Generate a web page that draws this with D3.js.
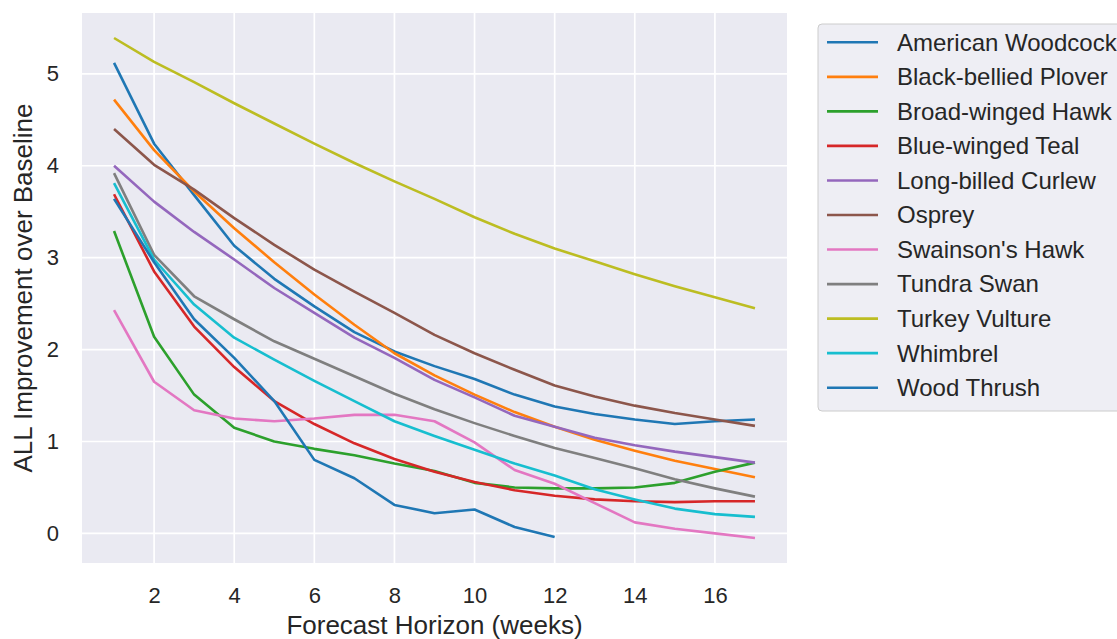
<!DOCTYPE html>
<html>
<head>
<meta charset="utf-8">
<script src="https://cdn.jsdelivr.net/npm/d3@7"></script>
<style>
  body { margin: 0; background: #fff; }
  text { font-family: "Liberation Sans", Arial, sans-serif; fill: #262626; }
</style>
</head>
<body>
<div id="chart"></div>
<script>
// forecast horizon, weeks 1..17
const weeks = d3.range(1, 18);
const xTicks = [2, 4, 6, 8, 10, 12, 14, 16];
const yTicks = [0, 1, 2, 3, 4, 5];

const speciesNames = [
  "American Woodcock", "Black-bellied Plover", "Broad-winged Hawk",
  "Blue-winged Teal", "Long-billed Curlew", "Osprey", "Swainson's Hawk",
  "Tundra Swan", "Turkey Vulture", "Whimbrel", "Wood Thrush"
];

const americanWoodcock = [5.12, 4.24, 3.68, 3.13, 2.77, 2.47, 2.19, 1.98, 1.82, 1.68, 1.51, 1.38, 1.30, 1.24, 1.19, 1.22, 1.24];
const blackBelliedPlover = [4.72, 4.17, 3.72, 3.32, 2.95, 2.60, 2.27, 1.96, 1.72, 1.51, 1.32, 1.16, 1.02, 0.90, 0.79, 0.70, 0.61];
const broadWingedHawk = [3.29, 2.14, 1.51, 1.15, 1.00, 0.92, 0.85, 0.76, 0.68, 0.55, 0.50, 0.49, 0.49, 0.50, 0.55, 0.67, 0.77];
const blueWingedTeal = [3.69, 2.85, 2.25, 1.81, 1.44, 1.19, 0.98, 0.81, 0.67, 0.56, 0.47, 0.41, 0.37, 0.35, 0.34, 0.35, 0.35];
const longBilledCurlew = [4.00, 3.61, 3.28, 2.98, 2.67, 2.40, 2.13, 1.91, 1.67, 1.48, 1.28, 1.16, 1.04, 0.96, 0.89, 0.83, 0.77];
const osprey = [4.40, 4.01, 3.74, 3.43, 3.14, 2.87, 2.63, 2.40, 2.16, 1.96, 1.78, 1.61, 1.49, 1.39, 1.31, 1.24, 1.17];
const swainsonsHawk = [2.43, 1.65, 1.34, 1.25, 1.22, 1.25, 1.29, 1.29, 1.22, 0.99, 0.69, 0.54, 0.33, 0.12, 0.05, 0.00, -0.05];
const tundraSwan = [3.92, 3.03, 2.58, 2.33, 2.09, 1.90, 1.71, 1.52, 1.35, 1.20, 1.06, 0.93, 0.82, 0.71, 0.59, 0.49, 0.40];
const turkeyVulture = [5.39, 5.13, 4.91, 4.68, 4.46, 4.24, 4.03, 3.83, 3.64, 3.44, 3.26, 3.10, 2.96, 2.82, 2.69, 2.57, 2.45];
const whimbrel = [3.81, 2.98, 2.49, 2.13, 1.89, 1.66, 1.44, 1.22, 1.06, 0.91, 0.76, 0.63, 0.48, 0.37, 0.27, 0.21, 0.18];
const woodThrush = [3.64, 2.95, 2.33, 1.91, 1.44, 0.80, 0.60, 0.31, 0.22, 0.26, 0.07, -0.04];

const allSeries = [
  americanWoodcock, blackBelliedPlover, broadWingedHawk, blueWingedTeal,
  longBilledCurlew, osprey, swainsonsHawk, tundraSwan, turkeyVulture,
  whimbrel, woodThrush
];

const colors = d3.scaleOrdinal(
  ["#1f77b4", "#ff7f0e", "#2ca02c", "#d62728", "#9467bd", "#8c564b",
   "#e377c2", "#7f7f7f", "#bcbd22", "#17becf"]
);

const width = 1117, height = 639;
const margin = { top: 13, right: 330, bottom: 76, left: 82 };
const plotW = width - margin.left - margin.right;
const plotH = height - margin.top - margin.bottom;

const svg = d3.select("#chart").append("svg")
  .attr("width", width)
  .attr("height", height);

const g = svg.append("g")
  .attr("transform", "translate(" + margin.left + "," + margin.top + ")");

// matplotlib-style 5% margins
const allVals = allSeries.flat();
const yMin = d3.min(allVals), yMax = d3.max(allVals);
const yPad = (yMax - yMin) * 0.05;
const xPad = (d3.max(weeks) - d3.min(weeks)) * 0.05;

const x = d3.scaleLinear()
  .domain([d3.min(weeks) - xPad, d3.max(weeks) + xPad])
  .range([0, plotW]);
const y = d3.scaleLinear()
  .domain([yMin - yPad, yMax + yPad])
  .range([plotH, 0]);

g.append("rect")
  .attr("width", plotW)
  .attr("height", plotH)
  .attr("fill", "#eaeaf2");

// grid
g.selectAll(".xgrid").data(xTicks).enter().append("line")
  .attr("x1", d => x(d)).attr("x2", d => x(d))
  .attr("y1", 0).attr("y2", plotH)
  .attr("stroke", "#fff").attr("stroke-width", 1.7);
g.selectAll(".ygrid").data(yTicks).enter().append("line")
  .attr("y1", d => y(d)).attr("y2", d => y(d))
  .attr("x1", 0).attr("x2", plotW)
  .attr("stroke", "#fff").attr("stroke-width", 1.7);

// axes (no domain line, no tick marks, like seaborn darkgrid)
const xAxis = g.append("g")
  .attr("transform", "translate(0," + plotH + ")")
  .call(d3.axisBottom(x).tickValues(xTicks).tickFormat(d3.format("d"))
    .tickSize(0).tickPadding(24));
const yAxis = g.append("g")
  .call(d3.axisLeft(y).tickValues(yTicks).tickFormat(d3.format("d"))
    .tickSize(0).tickPadding(23));
[xAxis, yAxis].forEach(a => {
  a.select(".domain").remove();
  a.attr("font-size", null).attr("font-family", null);
  a.selectAll("text")
    .style("font-size", "22px")
    .attr("fill", "#262626");
});

// lines
const line = d3.line()
  .x((d, i) => x(weeks[i]))
  .y(d => y(d));

allSeries.forEach((s, i) => {
  g.append("path")
    .datum(s)
    .attr("fill", "none")
    .attr("stroke", colors(i % 10))
    .attr("stroke-width", 2.6)
    .attr("stroke-linejoin", "round")
    .attr("d", line);
});

// axis labels
svg.append("text")
  .attr("x", margin.left + plotW / 2)
  .attr("y", 634)
  .attr("text-anchor", "middle")
  .style("font-size", "26px")
  .text("Forecast Horizon (weeks)");

svg.append("text")
  .attr("transform", "translate(32," + (margin.top + plotH / 2) + ") rotate(-90)")
  .attr("text-anchor", "middle")
  .style("font-size", "26px")
  .text("ALL Improvement over Baseline");

// legend
const legend = svg.append("g").attr("transform", "translate(818,24)");
legend.append("rect")
  .attr("x", 0).attr("y", 0)
  .attr("width", 340).attr("height", 387)
  .attr("rx", 4)
  .attr("fill", "#eeeef4")
  .attr("stroke", "#cccccc")
  .attr("stroke-width", 1);

const rows = legend.selectAll(".row").data(speciesNames).enter().append("g")
  .attr("transform", (d, i) => "translate(0," + (18.3 + i * 34.54) + ")");
rows.append("line")
  .attr("x1", 9).attr("x2", 60)
  .attr("stroke", (d, i) => colors(i % 10))
  .attr("stroke-width", 2.6);
rows.append("text")
  .attr("x", 79)
  .attr("dy", "0.35em")
  .style("font-size", "24px")
  .text(d => d);
</script>
</body>
</html>
